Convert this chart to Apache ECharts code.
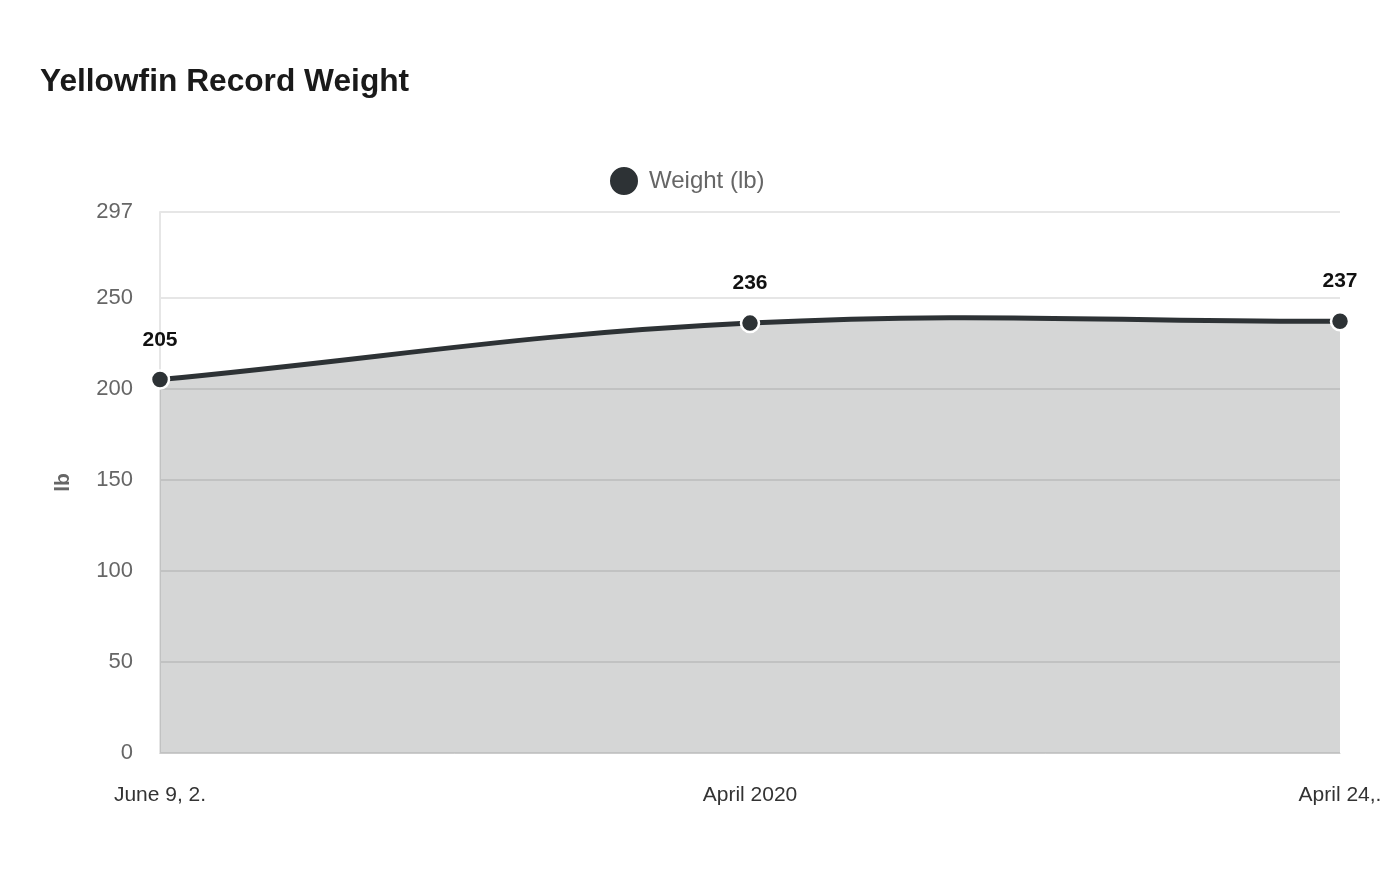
<!DOCTYPE html>
<html>
<head>
<meta charset="utf-8">
<script src="https://cdn.jsdelivr.net/npm/echarts@6/dist/echarts.min.js"></script>
<style>
html,body{margin:0;padding:0;background:#fff;}
#chart{width:1400px;height:880px;}
</style>
</head>
<body>
<div id="chart"></div>
<script>
const categories = ["June 9, 2.", "April 2020", "April 24,."];
const weights = [205, 236, 237];
const seriesName = "Weight (lb)";
const yTicksMax = 297;

const TENSION = 0.4;
function controlPoints(pts) {
  // cardinal-style spline control points (prev/next) for each point
  return pts.map((p, i) => {
    const prev = pts[i - 1] || p;
    const next = pts[i + 1] || p;
    const d01 = Math.hypot(p[0] - prev[0], p[1] - prev[1]);
    const d12 = Math.hypot(next[0] - p[0], next[1] - p[1]);
    const sum = d01 + d12 || 1;
    const fa = TENSION * d01 / sum;
    const fb = TENSION * d12 / sum;
    return {
      prev: [p[0] - fa * (next[0] - prev[0]), p[1] - fa * (next[1] - prev[1])],
      next: [p[0] + fb * (next[0] - prev[0]), p[1] + fb * (next[1] - prev[1])]
    };
  });
}

function renderCurve(params, api) {
  if (params.dataIndex !== 0) return;
  const pts = weights.map((v, i) => api.coord([i, v]));
  const cps = controlPoints(pts);
  let d = 'M' + pts[0][0] + ' ' + pts[0][1];
  for (let i = 1; i < pts.length; i++) {
    const c1 = cps[i - 1].next, c2 = cps[i].prev;
    d += ' C' + c1[0] + ' ' + c1[1] + ' ' + c2[0] + ' ' + c2[1] + ' ' + pts[i][0] + ' ' + pts[i][1];
  }
  const baseY = api.coord([0, 0])[1];
  const area = d + ' L' + pts[pts.length - 1][0] + ' ' + baseY + ' L' + pts[0][0] + ' ' + baseY + ' Z';
  return {
    type: 'group',
    children: [
      { type: 'path', shape: { pathData: area }, style: { fill: 'rgba(45,52,50,0.2)', stroke: null } },
      { type: 'path', shape: { pathData: d }, style: { fill: 'none', stroke: '#2d3235', lineWidth: 5 } }
    ]
  };
}

const chart = echarts.init(document.getElementById('chart'));
chart.setOption({
  animation: false,
  backgroundColor: '#ffffff',
  textStyle: { fontFamily: 'Liberation Sans, Arial, sans-serif' },
  title: {
    text: 'Yellowfin Record Weight',
    left: 35, top: 61,
    textStyle: { fontSize: 31.7, fontWeight: 'bold', color: '#1a1a1a' }
  },
  legend: {
    top: 160, left: 603,
    icon: 'circle', itemWidth: 40, itemHeight: 30, itemGap: 10,
    textStyle: { fontSize: 24, color: '#666' },
    data: [seriesName]
  },
  grid: { left: 160, right: 60, top: 212, bottom: 127 },
  xAxis: {
    type: 'category',
    data: categories,
    boundaryGap: false,
    axisLine: { show: true, lineStyle: { color: '#cccccc', width: 1 } },
    axisTick: { show: false },
    axisLabel: { fontSize: 21, color: '#333', margin: 32 },
    splitLine: { show: false }
  },
  yAxis: {
    type: 'value',
    min: 0, max: yTicksMax, interval: 50,
    name: 'lb', nameLocation: 'middle', nameGap: 86, nameRotate: 90,
    nameTextStyle: { fontSize: 21, fontWeight: 'bold', color: '#666' },
    axisLine: { show: true, lineStyle: { color: '#e6e6e6', width: 2 } },
    axisTick: { show: false },
    axisLabel: { fontSize: 22, color: '#666', margin: 27 },
    splitLine: { show: true, lineStyle: { color: '#e6e6e6', width: 2 } }
  },
  series: [{
    name: 'curve',
    type: 'custom',
    data: weights.map((v, i) => [i, v]),
    encode: { x: 0, y: 1 },
    renderItem: renderCurve,
    silent: true,
    z: 2
  }, {
    name: seriesName,
    type: 'line',
    data: weights,
    symbol: 'circle',
    symbolSize: 18,
    lineStyle: { color: '#2d3235', width: 5, opacity: 0 },
    itemStyle: { color: '#2d3235', borderColor: '#ffffff', borderWidth: 2.5 },
    label: {
      show: true, position: 'top', distance: 19,
      fontSize: 21, fontWeight: 'bold', color: '#111'
    },
    z: 3
  }]
});
</script>
</body>
</html>
